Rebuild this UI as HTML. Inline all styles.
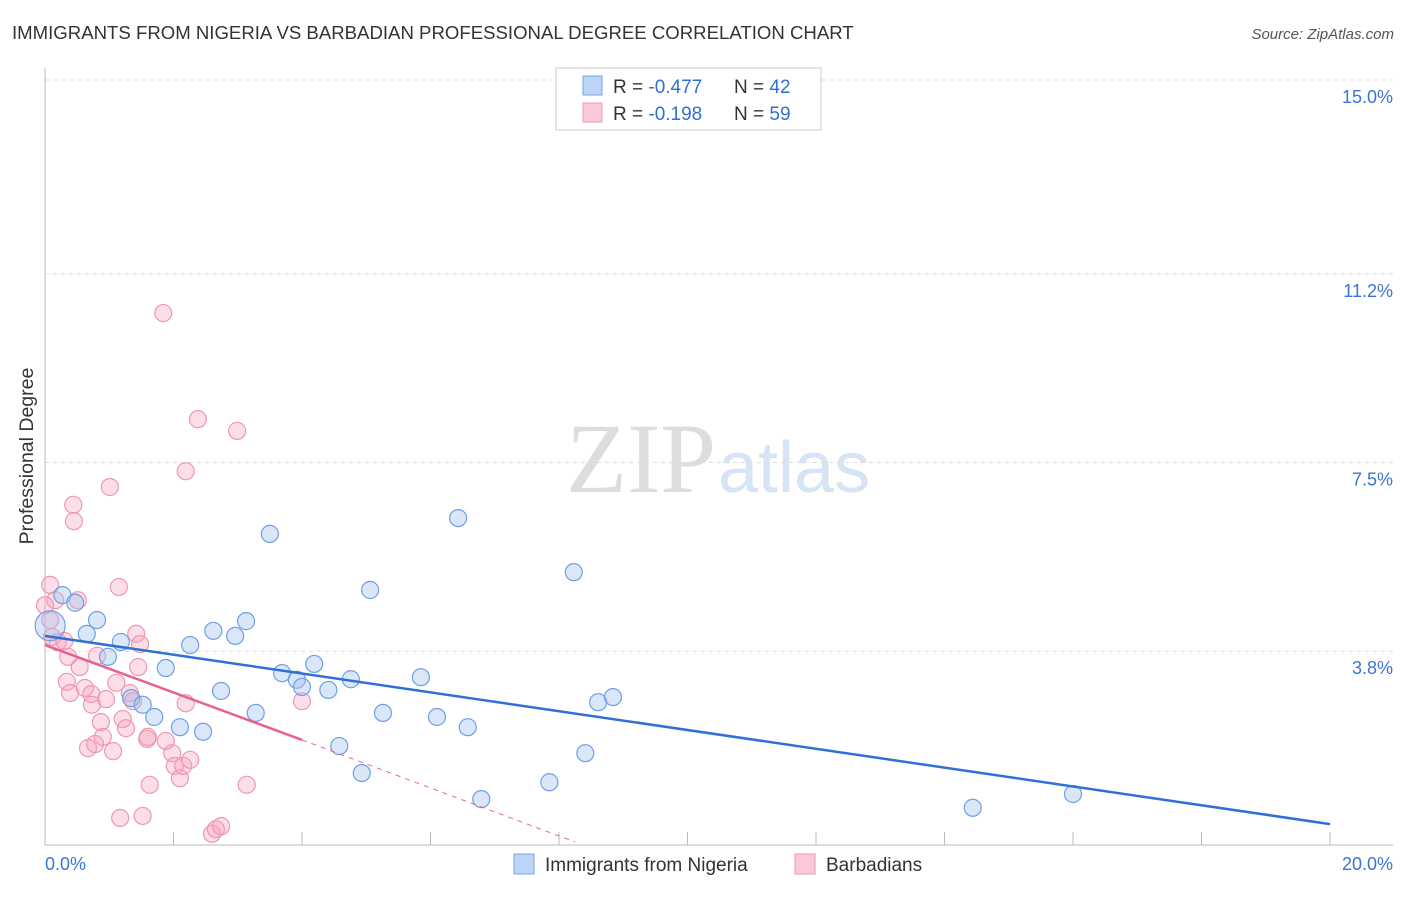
<!DOCTYPE html>
<html><head><meta charset="utf-8"><style>
body{margin:0;background:#fff;font-family:"Liberation Sans",sans-serif;}
svg text{font-family:"Liberation Sans",sans-serif;}
</style></head><body>
<svg width="1406" height="892" xmlns="http://www.w3.org/2000/svg">
<text x="12" y="39" font-size="18.6" fill="#333">IMMIGRANTS FROM NIGERIA VS BARBADIAN PROFESSIONAL DEGREE CORRELATION CHART</text>
<text x="1394" y="39" font-size="15" fill="#555" text-anchor="end" font-style="italic">Source: ZipAtlas.com</text>
<text x="33" y="456" font-size="19.5" fill="#333" text-anchor="middle" transform="rotate(-90 33 456)">Professional Degree</text>
<text x="716" y="492" font-size="100" fill="#ddd" text-anchor="end" style="font-family:'Liberation Serif',serif">ZIP</text>
<text x="718" y="492" font-size="72" fill="#d6e4f5">atlas</text>
<g id="grid"></g>
<g id="axes"></g>
<g id="pts"></g>
<g id="lines"></g>
<g>
<rect x="556" y="68" width="265" height="62" fill="#fff" stroke="#ccc"/>
<rect x="583" y="76" width="19" height="19" fill="#bcd4f5" stroke="#7aa6e6"/>
<rect x="583" y="103" width="19" height="19" fill="#f9c9d8" stroke="#ef97b3"/>
<text x="613" y="93" font-size="19" fill="#333">R = <tspan fill="#2f6fd6">-0.477</tspan></text>
<text x="734" y="93" font-size="19" fill="#333">N = <tspan fill="#2f6fd6">42</tspan></text>
<text x="613" y="120" font-size="19" fill="#333">R =  <tspan fill="#2f6fd6">-0.198</tspan></text>
<text x="734" y="120" font-size="19" fill="#333">N = <tspan fill="#2f6fd6">59</tspan></text>
</g>
<g>
<rect x="514" y="854" width="20" height="20" fill="#bcd4f5" stroke="#7aa6e6"/>
<text x="545" y="871" font-size="19" fill="#333">Immigrants from Nigeria</text>
<rect x="795" y="854" width="20" height="20" fill="#f9c9d8" stroke="#ef97b3"/>
<text x="826" y="871" font-size="19" fill="#333">Barbadians</text>
</g>
</svg>
<script>
const yTicks=[15.0,11.2,7.5,3.8];
const yTickLabels=["15.0%","11.2%","7.5%","3.8%"];
const xTickLabels=["0.0%","20.0%"];
const nigeriaX=[0.27,0.47,0.65,0.81,0.98,1.18,1.34,1.52,1.70,1.88,2.10,2.26,2.46,2.62,2.74,2.96,3.13,3.28,3.50,3.69,3.92,4.00,4.19,4.41,4.58,4.76,4.93,5.06,5.26,5.85,6.10,6.43,6.58,6.79,7.85,8.23,8.41,8.61,8.84,14.44,16.00,0.08];
const nigeriaY=[4.90,4.75,4.14,4.41,3.69,3.98,2.88,2.75,2.51,3.47,2.31,3.92,2.22,4.20,3.02,4.10,4.39,2.59,6.10,3.37,3.24,3.10,3.55,3.04,1.94,3.25,1.41,5.00,2.59,3.29,2.51,6.41,2.31,0.90,1.23,5.35,1.80,2.80,2.90,0.73,1.00,4.30];
const barbX=[0.08,0.16,0.11,0.20,0.36,0.34,0.44,0.45,0.39,0.51,0.54,0.62,0.67,0.72,0.78,0.81,0.73,0.87,0.90,1.01,0.95,1.06,1.11,1.15,1.17,1.21,1.26,1.32,1.37,1.42,1.45,1.48,1.52,1.59,1.63,1.60,1.84,1.88,1.98,2.02,2.10,2.15,2.19,2.19,2.26,2.38,2.60,2.66,2.74,2.99,3.14,4.00,0.00,0.08,0.30];
const barbY=[5.10,4.80,4.08,3.98,3.69,3.20,6.67,6.35,2.98,4.80,3.49,3.08,1.90,2.96,1.98,3.71,2.75,2.41,2.12,7.02,2.86,1.84,3.18,5.06,0.53,2.47,2.29,2.98,2.82,4.14,3.49,3.94,0.57,2.08,1.18,2.12,10.43,2.04,1.80,1.55,1.31,1.55,2.78,7.33,1.67,8.35,0.22,0.31,0.37,8.12,1.18,2.82,4.70,4.41,4.00];
const X=v=>45+v*64.25, Y=v=>845-v*51;
const NS="http://www.w3.org/2000/svg";
function mk(t,a,p){const e=document.createElementNS(NS,t);for(const k in a)e.setAttribute(k,a[k]);p.appendChild(e);return e;}
const g=document.getElementById('grid'),ax=document.getElementById('axes'),pts=document.getElementById('pts'),ln=document.getElementById('lines');
yTicks.forEach((v,i)=>{
 const l=mk('line',{x1:45,x2:1393,y1:Y(v),y2:Y(v),stroke:'#ddd','stroke-dasharray':'4,4'},g);
 
 
 const t=mk('text',{x:1393,y:Y(v)+23,'font-size':18,fill:'#3b74d6','text-anchor':'end'},g);
 t.textContent=yTickLabels[i];
 
 
});
mk('line',{x1:45,x2:45,y1:68,y2:845,stroke:'#bbb'},ax);
mk('line',{x1:45,x2:1393,y1:845,y2:845,stroke:'#bbb'},ax);
for(let i=1;i<=10;i++){const l=mk('line',{x1:X(i*2),x2:X(i*2),y1:832,y2:845,stroke:'#bbb'},ax);
 
 }
const t0=mk('text',{x:45,y:870,'font-size':18,fill:'#3b74d6'},ax);t0.textContent=xTickLabels[0];


const t1=mk('text',{x:1393,y:870,'font-size':18,fill:'#3b74d6','text-anchor':'end'},ax);t1.textContent=xTickLabels[1];


barbX.forEach((x,i)=>{const c=mk('circle',{cx:X(x),cy:Y(barbY[i]),r:8.5,fill:'rgba(245,160,188,0.35)',stroke:'#ef97b3','stroke-width':1.2},pts);
 
 });
nigeriaX.forEach((x,i)=>{const c=mk('circle',{cx:X(x),cy:Y(nigeriaY[i]),r:i==41?15:8.5,fill:'rgba(160,195,240,0.4)',stroke:'#6f9fe3','stroke-width':1.2},pts);
 
 });
const bl=mk('line',{x1:X(0),y1:Y(4.1),x2:X(20),y2:Y(0.41),stroke:'#2f6fd6','stroke-width':2.5},ln);


const pl=mk('line',{x1:X(0),y1:Y(3.92),x2:X(4),y2:Y(2.06),stroke:'#e8608c','stroke-width':2.5},ln);


const pd=mk('line',{x1:X(4),y1:Y(2.06),x2:X(8.25),y2:Y(0.06),stroke:'#e8608c','stroke-width':1,'stroke-dasharray':'5,5'},ln);


</script>
</body></html>
